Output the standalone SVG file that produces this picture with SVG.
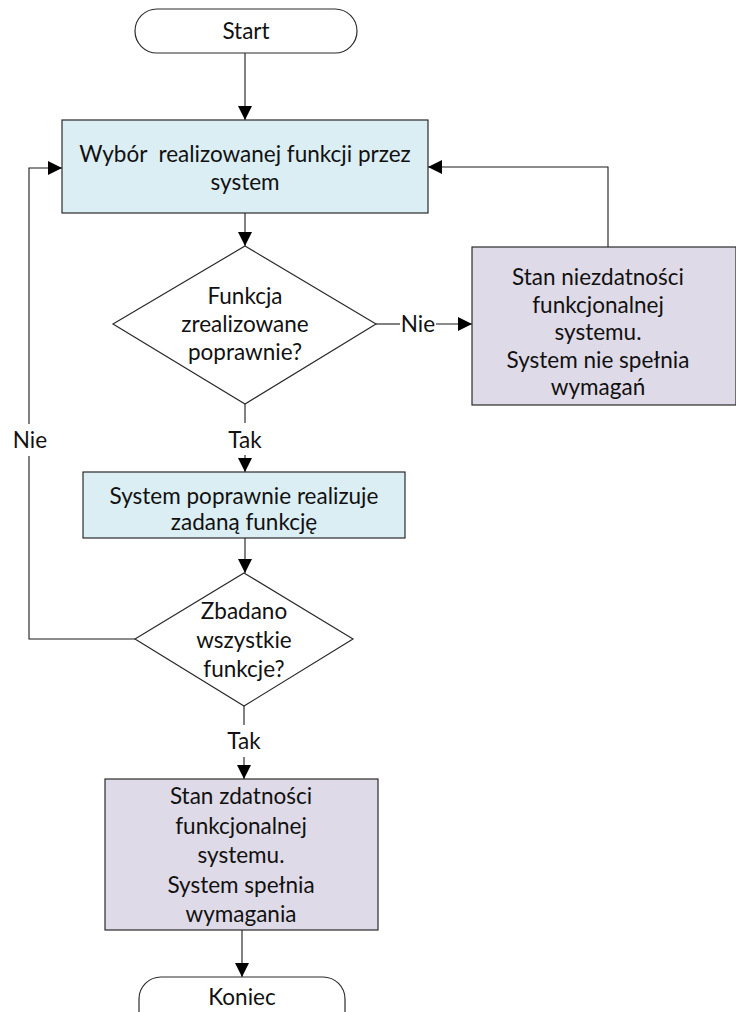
<svg xmlns="http://www.w3.org/2000/svg" width="736" height="1012" viewBox="0 0 736 1012">
  <style>
    .node { stroke: #2b2b2b; stroke-width: 1.2; }
    .term { fill: #ffffff; }
    .proc { fill: #dbeef4; }
    .state { fill: #dfdae7; }
    .dec { fill: #ffffff; }
    .edge { fill: none; stroke: #1a1a1a; stroke-width: 1.1; }
    text { font-family: Lato, "Open Sans", "Liberation Sans", sans-serif; font-size: 22.5px; fill: #111111; text-anchor: middle; white-space: pre; }
  </style>
  <defs>
    <marker id="arrow" markerUnits="userSpaceOnUse" markerWidth="14" markerHeight="14" refX="14" refY="7" orient="auto">
      <path d="M0,0 L14,7 L0,14 z" fill="#000000"/>
    </marker>
  </defs>

  <rect width="736" height="1012" fill="#ffffff"/>

  <!-- connectors -->
  <g id="connectors">
    <line class="edge" x1="245" y1="53" x2="245" y2="120" marker-end="url(#arrow)"/>
    <line class="edge" x1="245" y1="213" x2="245" y2="246" marker-end="url(#arrow)"/>
    <line class="edge" x1="376" y1="324" x2="400" y2="324"/>
    <line class="edge" x1="436" y1="324" x2="472" y2="324" marker-end="url(#arrow)"/>
    <path class="edge" d="M608,247 V167 H428" marker-end="url(#arrow)"/>
    <line class="edge" x1="245" y1="404" x2="245" y2="423"/>
    <line class="edge" x1="245" y1="455" x2="245" y2="472" marker-end="url(#arrow)"/>
    <line class="edge" x1="245" y1="538" x2="245" y2="573" marker-end="url(#arrow)"/>
    <path class="edge" d="M135,639 H29 V456"/>
    <path class="edge" d="M29,424 V168 H62" marker-end="url(#arrow)"/>
    <line class="edge" x1="244" y1="706" x2="244" y2="725"/>
    <line class="edge" x1="244" y1="757" x2="244" y2="779" marker-end="url(#arrow)"/>
    <line class="edge" x1="242" y1="930" x2="242" y2="977" marker-end="url(#arrow)"/>
    <text x="418" y="332">Nie</text>
    <text x="245" y="448">Tak</text>
    <text x="30" y="448">Nie</text>
    <text x="244" y="749">Tak</text>
  </g>

  <g id="start">
    <rect class="node term" x="135" y="9" width="222" height="44" rx="22" ry="22"/>
    <text x="246" y="39">Start</text>
  </g>

  <g id="select-function">
    <rect class="node proc" x="62" y="120" width="366" height="93"/>
    <text x="245" y="162">Wybór  realizowanej funkcji przez</text>
    <text x="245" y="190">system</text>
  </g>

  <g id="check-function">
    <polygon class="node dec" points="245,246 376,324 245,404 113,324"/>
    <text x="245" y="304">Funkcja</text>
    <text x="245" y="332">zrealizowane</text>
    <text x="245" y="360">poprawnie?</text>
  </g>

  <g id="failure-state">
    <rect class="node state" x="472" y="247" width="264" height="158"/>
    <text x="598" y="285">Stan niezdatności</text>
    <text x="598" y="313">funkcjonalnej</text>
    <text x="598" y="340">systemu.</text>
    <text x="598" y="368">System nie spełnia</text>
    <text x="598" y="395">wymagań</text>
  </g>

  <g id="function-ok">
    <rect class="node proc" x="83" y="472" width="322" height="66"/>
    <text x="244" y="504">System poprawnie realizuje</text>
    <text x="244" y="530">zadaną funkcję</text>
  </g>

  <g id="all-checked">
    <polygon class="node dec" points="244,573 353,639 244,706 135,639"/>
    <text x="244" y="619">Zbadano</text>
    <text x="244" y="648">wszystkie</text>
    <text x="244" y="677">funkcje?</text>
  </g>

  <g id="success-state">
    <rect class="node state" x="105" y="779" width="273" height="151"/>
    <text x="241" y="804">Stan zdatności</text>
    <text x="241" y="834">funkcjonalnej</text>
    <text x="241" y="863">systemu.</text>
    <text x="241" y="893">System spełnia</text>
    <text x="241" y="922">wymagania</text>
  </g>

  <g id="end">
    <rect class="node term" x="139" y="977" width="206" height="60" rx="22" ry="22"/>
    <text x="242" y="1005">Koniec</text>
  </g>
</svg>
